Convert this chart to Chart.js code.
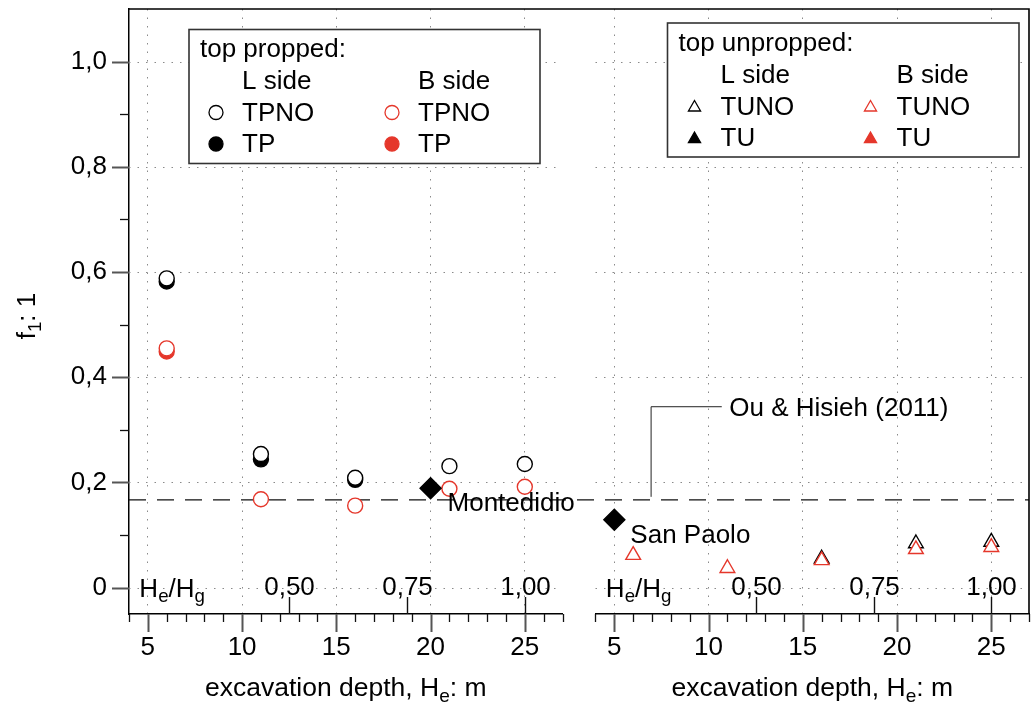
<!DOCTYPE html>
<html>
<head>
<meta charset="utf-8">
<script src="https://cdn.jsdelivr.net/npm/chart.js@4.4.1/dist/chart.umd.min.js"></script>
<style>
  html, body { margin: 0; padding: 0; background: #fff; }
  #wrap { width: 1033px; height: 703px; position: relative; }
</style>
</head>
<body>
<div id="wrap"><canvas id="c" width="1033" height="703"></canvas></div>
<script>
// ---- data: f1 ratio against excavation depth He (m) ----
// top propped walls (left panel)
const tpnoLDepth = [6, 11, 16, 21, 25];
const tpnoL      = [0.588, 0.254, 0.209, 0.231, 0.235];
const tpnoBDepth = [6, 11, 16, 21, 25];
const tpnoB      = [0.455, 0.168, 0.156, 0.188, 0.192];
const tpLDepth   = [6, 11, 16];
const tpL        = [0.582, 0.244, 0.205];
const tpBDepth   = [6];
const tpB        = [0.449];
// top unpropped walls (right panel)
const tunoLDepth = [16, 21, 25];
const tunoL      = [0.055, 0.084, 0.087];
const tunoBDepth = [6, 11, 16, 21, 25];
const tunoB      = [0.062, 0.037, 0.052, 0.073, 0.077];
const tuLDepth   = [];
const tuL        = [];
const tuBDepth   = [];
const tuB        = [];
// case histories
const montedidioDepth = [20];
const montedidio      = [0.189];
const sanPaoloDepth   = [5];
const sanPaolo        = [0.129];
// Ou & Hsieh (2011) reference value
const ouHsiehF1 = 0.167;

// ---- axes ----
const depthTicks      = [5, 10, 15, 20, 25];
const depthTickLabels = ['5', '10', '15', '20', '25'];
const yTickValues     = [0, 0.2, 0.4, 0.6, 0.8, 1.0];
const yTickLabels     = ['0', '0,2', '0,4', '0,6', '0,8', '1,0'];
const heHgTicks       = [0.5, 0.75, 1.0];
const heHgTickLabels  = ['0,50', '0,75', '1,00'];
const groundDepthHg   = 25;

const RED = '#e5372b';
const FONT = "'Liberation Sans', Arial, Helvetica, sans-serif";
const GRID = '#8a8a8a';
const TICK_FONT = 26;

Chart.defaults.font.family = FONT;
Chart.defaults.color = '#000';

const pts = (xs, ys) => xs.map((x, i) => ({x: x, y: ys[i]}));

function marker(style, color, filled, radius, order) {
  return {
    pointStyle: style,
    pointRadius: radius,
    pointHoverRadius: radius,
    pointBorderWidth: 1.4,
    pointBorderColor: color,
    pointBackgroundColor: filled ? color : '#ffffff',
    showLine: false,
    order: order,
    clip: false
  };
}

const datasets = [
  Object.assign({label: 'TPNO L', data: pts(tpnoLDepth, tpnoL), xAxisID: 'x'}, marker('circle', '#000', false, 7.5, 1)),
  Object.assign({label: 'TPNO B', data: pts(tpnoBDepth, tpnoB), xAxisID: 'x'}, marker('circle', RED, false, 7.5, 1)),
  Object.assign({label: 'TP L', data: pts(tpLDepth, tpL), xAxisID: 'x'}, marker('circle', '#000', true, 7.5, 2)),
  Object.assign({label: 'TP B', data: pts(tpBDepth, tpB), xAxisID: 'x'}, marker('circle', RED, true, 7.5, 2)),
  Object.assign({label: 'Montedidio', data: pts(montedidioDepth, montedidio), xAxisID: 'x'}, marker('rectRot', '#000', true, 10.5, 0)),
  Object.assign({label: 'TUNO B', data: pts(tunoBDepth, tunoB), xAxisID: 'x2'}, marker('triangle', RED, false, 8.5, 1)),
  Object.assign({label: 'TUNO L', data: pts(tunoLDepth, tunoL), xAxisID: 'x2'}, marker('triangle', '#000', false, 8.5, 2)),
  Object.assign({label: 'TU L', data: pts(tuLDepth, tuL), xAxisID: 'x2'}, marker('triangle', '#000', true, 8.5, 3)),
  Object.assign({label: 'TU B', data: pts(tuBDepth, tuB), xAxisID: 'x2'}, marker('triangle', RED, true, 8.5, 3)),
  Object.assign({label: 'San Paolo', data: pts(sanPaoloDepth, sanPaolo), xAxisID: 'x2'}, marker('rectRot', '#000', true, 10.5, 0))
];

// text with subscripts: parts = [[text, isSub], ...]
function richWidth(ctx, parts, size) {
  let w = 0;
  for (const [t, sub] of parts) {
    ctx.font = (sub ? size * 0.72 : size) + 'px ' + FONT;
    w += ctx.measureText(t).width;
  }
  return w;
}
function drawRich(ctx, parts, x, y, size, align) {
  const w = richWidth(ctx, parts, size);
  let cx = align === 'center' ? x - w / 2 : (align === 'right' ? x - w : x);
  ctx.textAlign = 'left';
  ctx.textBaseline = 'alphabetic';
  for (const [t, sub] of parts) {
    ctx.font = (sub ? size * 0.72 : size) + 'px ' + FONT;
    ctx.fillText(t, cx, sub ? y + size * 0.22 : y);
    cx += ctx.measureText(t).width;
  }
}

function depthAxis(weight) {
  return {
    type: 'linear', position: 'bottom', stack: 'depth', stackWeight: weight,
    min: 4, max: 27,
    afterBuildTicks: s => { s.ticks = depthTicks.map(v => ({value: v})); },
    afterFit: s => { s.height = 89; s.paddingLeft = 0; s.paddingRight = 0; },
    ticks: { font: {size: TICK_FONT}, color: '#000', padding: 18, maxRotation: 0, autoSkip: false,
             callback: (v, i) => depthTickLabels[i] },
    grid: { color: GRID, lineWidth: 1, drawTicks: false },
    border: { display: true, color: '#000', width: 1.5, dash: [1.5, 7] }
  };
}

// frame, minor ticks, reference line and secondary He/Hg axis
const framePlugin = {
  id: 'frame',
  beforeDatasetsDraw(chart) {
    const {ctx, chartArea: ca, scales} = chart;
    const y = scales.y;
    ctx.save();
    // horizontal dotted grid, one run per panel
    ctx.strokeStyle = GRID; ctx.lineWidth = 1; ctx.setLineDash([1.5, 7]);
    for (const sx of [scales.x, scales.x2]) {
      for (const v of yTickValues) {
        const py = Math.round(y.getPixelForValue(v)) + 0.5;
        ctx.beginPath(); ctx.moveTo(sx.left, py); ctx.lineTo(sx.right, py); ctx.stroke();
      }
    }
    // Ou & Hsieh (2011) dashed line across both panels
    const yr = y.getPixelForValue(ouHsiehF1);
    ctx.strokeStyle = '#111'; ctx.lineWidth = 1.4; ctx.setLineDash([17, 11]);
    ctx.beginPath(); ctx.moveTo(ca.left, yr); ctx.lineTo(ca.right, yr); ctx.stroke();
    ctx.setLineDash([]);
    // callout leader
    const x2 = scales.x2;
    const lx = x2.getPixelForValue(6.95), ly = y.getPixelForValue(0.344), lx2 = x2.getPixelForValue(10.7);
    ctx.strokeStyle = '#222'; ctx.lineWidth = 1;
    ctx.beginPath(); ctx.moveTo(lx, yr - 3); ctx.lineTo(lx, ly); ctx.lineTo(lx2, ly); ctx.stroke();
    ctx.restore();
  },
  afterDatasetsDraw(chart) {
    const {ctx, scales} = chart;
    const y = scales.y, x = scales.x, x2 = scales.x2;
    ctx.save();
    ctx.fillStyle = '#000';
    ctx.font = '26px ' + FONT; ctx.textAlign = 'left'; ctx.textBaseline = 'alphabetic';
    ctx.fillText('Montedidio', x.getPixelForValue(20.9), y.getPixelForValue(0.145));
    ctx.fillText('San Paolo', x2.getPixelForValue(5.85), y.getPixelForValue(0.085));
    ctx.fillText('Ou & Hisieh (2011)', x2.getPixelForValue(11.1), y.getPixelForValue(0.326));
    ctx.restore();
  },
  afterDraw(chart) {
    const {ctx, chartArea: ca, scales} = chart;
    const y = scales.y;
    const base = scales.x.top;
    ctx.save();
    // top and right frame lines
    ctx.strokeStyle = '#000'; ctx.lineWidth = 1.6;
    ctx.beginPath(); ctx.moveTo(ca.left - 0.8, ca.top); ctx.lineTo(ca.right, ca.top); ctx.lineTo(ca.right, ca.bottom); ctx.stroke();
    // y ticks: major every 0.2, minor every 0.1
    for (let k = 0; k <= 10; k++) {
      const v = k / 10;
      const py = Math.round(y.getPixelForValue(v)) + 0.5;
      const major = k % 2 === 0;
      ctx.strokeStyle = major ? '#555' : '#111';
      ctx.lineWidth = major ? 2 : 1.3;
      ctx.beginPath(); ctx.moveTo(ca.left, py); ctx.lineTo(ca.left - (major ? 17 : 9), py); ctx.stroke();
    }
    for (const sx of [scales.x, scales.x2]) {
      // depth ticks: major every 5 m, minor every 1 m
      for (let v = 4; v <= 27; v++) {
        const px = Math.round(sx.getPixelForValue(v)) + 0.5;
        const major = v % 5 === 0;
        ctx.strokeStyle = major ? '#555' : '#111';
        ctx.lineWidth = major ? 2 : 1.3;
        ctx.beginPath(); ctx.moveTo(px, base); ctx.lineTo(px, base + (major ? 18 : 8)); ctx.stroke();
      }
      // secondary He/Hg scale, ticks pointing into the plot
      ctx.strokeStyle = '#111'; ctx.lineWidth = 1.4;
      const y0 = y.getPixelForValue(0);
      heHgTicks.forEach((r, i) => {
        const px = Math.round(sx.getPixelForValue(r * groundDepthHg)) + 0.5;
        ctx.beginPath(); ctx.moveTo(px, base); ctx.lineTo(px, base - 17); ctx.stroke();
        ctx.fillStyle = '#000'; ctx.font = TICK_FONT + 'px ' + FONT; ctx.textAlign = 'center'; ctx.textBaseline = 'middle';
        ctx.fillText(heHgTickLabels[i], px, y0 + 0.5);
      });
      ctx.fillStyle = '#000';
      drawRich(ctx, [['H'], ['e', 1], ['/'], ['H'], ['g', 1]], sx.getPixelForValue(4.55), y0 + 9, 26, 'left');
      // axis title
      drawRich(ctx, [['excavation depth, H'], ['e', 1], [': m']], (sx.left + sx.right) / 2, 696, 26.5, 'center');
    }
    // y axis title
    ctx.save();
    ctx.translate(35, 316);
    ctx.rotate(-Math.PI / 2);
    drawRich(ctx, [['f'], ['1', 1], [': 1']], 0, 0, 26, 'center');
    ctx.restore();

    // legends
    const drawLegend = (bx, by, bw, bh, title, rows) => {
      ctx.fillStyle = '#fff'; ctx.fillRect(bx, by, bw, bh);
      ctx.strokeStyle = '#333'; ctx.lineWidth = 1.6; ctx.strokeRect(bx, by, bw, bh);
      ctx.fillStyle = '#000'; ctx.font = '26px ' + FONT; ctx.textAlign = 'left'; ctx.textBaseline = 'alphabetic';
      ctx.fillText(title, bx + 11, by + 27.5);
      ctx.fillText('L side', bx + 53, by + 59.5);
      ctx.fillText('B side', bx + 229, by + 59.5);
      rows.forEach((row, r) => {
        const my = by + (r === 0 ? 83 : 114.5);
        const ty = by + (r === 0 ? 91.5 : 122.5);
        row.forEach((ds, c) => {
          const mx = bx + (c === 0 ? 27 : 203);
          const isTri = ds.pointStyle === 'triangle';
          ctx.fillStyle = ds.pointBackgroundColor;
          ctx.strokeStyle = ds.pointBorderColor;
          ctx.lineWidth = 1.3;
          Chart.helpers.drawPoint(ctx, {pointStyle: ds.pointStyle, radius: 7, rotation: 0, borderWidth: 1.3},
                                  mx, my + (isTri ? 1.5 : 0));
          ctx.fillStyle = '#000'; ctx.font = '26px ' + FONT;
          ctx.fillText(ds.label.split(' ')[0], bx + (c === 0 ? 53 : 229), ty);
        });
      });
    };
    drawLegend(189, 29.5, 351, 134, 'top propped:', [[datasets[0], datasets[1]], [datasets[2], datasets[3]]]);
    drawLegend(667.5, 23, 351.5, 134, 'top unpropped:', [[datasets[6], datasets[5]], [datasets[7], datasets[8]]]);
    ctx.restore();
  }
};

new Chart(document.getElementById('c'), {
  type: 'scatter',
  data: { datasets: datasets },
  options: {
    responsive: false,
    animation: false,
    devicePixelRatio: 1,
    layout: { autoPadding: false, padding: { left: 0, top: 9, right: 4, bottom: 0 } },
    plugins: { legend: { display: false }, tooltip: { enabled: false } },
    scales: {
      x: depthAxis(23),
      xgap: {
        type: 'linear', position: 'bottom', stack: 'depth', stackWeight: 1.75, min: 0, max: 1,
        afterFit: s => { s.height = 89; s.paddingLeft = 0; s.paddingRight = 0; },
        ticks: { display: false }, grid: { display: false }, border: { display: false }
      },
      x2: depthAxis(23),
      y: {
        type: 'linear', position: 'left', min: -0.05, max: 1.1,
        afterBuildTicks: s => { s.ticks = yTickValues.map(v => ({value: v})); },
        afterFit: s => { s.width = 129; s.paddingTop = 0; s.paddingBottom = 0; },
        ticks: { font: {size: TICK_FONT}, color: '#000', padding: 22, callback: (v, i) => yTickLabels[i] },
        grid: { drawOnChartArea: false, drawTicks: false },
        border: { display: true, color: '#000', width: 1.5 }
      }
    }
  },
  plugins: [framePlugin]
});
</script>
</body>
</html>
